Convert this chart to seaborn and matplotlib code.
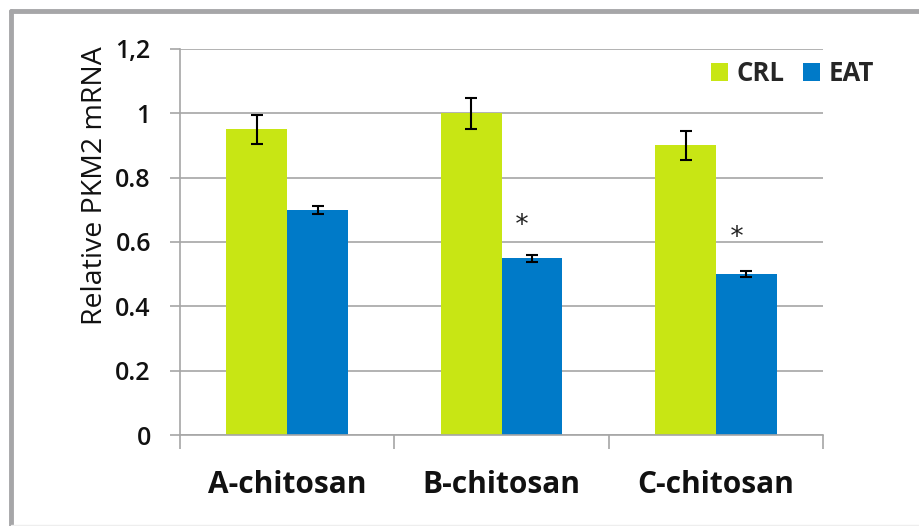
import numpy as np
import pandas as pd
import matplotlib
matplotlib.use('Agg')
import matplotlib.pyplot as plt
import seaborn as sns
from matplotlib.lines import Line2D

# values
groups = ['A-chitosan', 'B-chitosan', 'C-chitosan']
crl_values = [0.95, 1.00, 0.90]
eat_values = [0.70, 0.55, 0.50]
crl_err = [0.045, 0.048, 0.046]
eat_err = [0.012, 0.011, 0.010]
y_ticks = [0, 0.2, 0.4, 0.6, 0.8, 1.0, 1.2]
y_tick_labels = ['0', '0.2', '0.4', '0.6', '0.8', '1', '1,2']
star_groups = ['B-chitosan', 'C-chitosan']
star_heights = [0.65, 0.612]

df = pd.DataFrame({
    'group': groups * 2,
    'condition': ['CRL'] * 3 + ['EAT'] * 3,
    'value': crl_values + eat_values,
})

sns.set_theme(style='white')
plt.rcParams['font.family'] = ['Open Sans', 'DejaVu Sans']

fig = plt.figure(figsize=(9.2, 5.26), dpi=100)
ax = fig.add_axes([0.1957, 0.173, 0.699, 0.734])

palette = {'CRL': '#c8e614', 'EAT': '#007ac8'}
sns.barplot(data=df, x='group', y='value', hue='condition', palette=palette,
            width=0.567, saturation=1, errorbar=None, ax=ax, zorder=2,
            linewidth=0)

# error bars, positioned on the drawn bars
for container, errs in zip(ax.containers, [crl_err, eat_err]):
    xs = [p.get_x() + p.get_width() / 2 for p in container]
    hs = [p.get_height() for p in container]
    ax.errorbar(xs, hs, yerr=errs, fmt='none', ecolor='black',
                elinewidth=1.5, capsize=4, capthick=1.5, zorder=3)

# significance markers over EAT bars
eat_bars = list(ax.containers[1])
for g, h in zip(star_groups, star_heights):
    p = eat_bars[groups.index(g)]
    xc = p.get_x() + p.get_width() / 2 - 0.047
    ax.text(xc, h, '*', ha='center', va='center', fontsize=19,
            family='DejaVu Sans Mono', color='#222222')

ax.set_xlim(-0.5, 2.5)
ax.set_ylim(0, 1.2)
ax.set_yticks(y_ticks)
ax.set_yticklabels(y_tick_labels)
ax.yaxis.grid(True, color='#a6a6a6', linewidth=1.2, zorder=0)
ax.set_axisbelow(True)

for s in ['top', 'right']:
    ax.spines[s].set_visible(False)
for s in ['left', 'bottom']:
    ax.spines[s].set_color('#a6a6a6')
    ax.spines[s].set_linewidth(1.2)

ax.tick_params(axis='y', which='major', direction='out', length=7,
               color='#a6a6a6', width=1.2, labelsize=18, pad=14, left=True,
               labelcolor='#111111')
ax.tick_params(axis='x', which='major', length=0, labelsize=21.5, pad=25,
               labelcolor='#111111')
ax.set_xticks([-0.5, 0.5, 1.5, 2.5], minor=True)
ax.tick_params(axis='x', which='minor', direction='out', length=10,
               color='#a6a6a6', width=1.2, bottom=True)
for lab in ax.get_xticklabels():
    lab.set_fontweight('bold')
for lab in ax.get_yticklabels():
    lab.set_fontweight('semibold')

ax.set_xlabel('')
ax.set_ylabel('Relative PKM2 mRNA', fontsize=20.5, color='#111111',
              fontweight='medium')
ax.yaxis.set_label_coords(-0.11, 0.645)

ax.legend(loc='upper right', bbox_to_anchor=(1.115, 1.03), ncol=2, frameon=False,
          prop={'weight': 'bold', 'size': 18.5}, handlelength=0.65, handleheight=0.7,
          handletextpad=0.35, columnspacing=0.7)

# grey frame at top and left edge of the figure
fig.add_artist(Line2D([11 / 920, 1], [1 - 11 / 526, 1 - 11 / 526],
                      color='#a6a6a8', linewidth=3.5, transform=fig.transFigure))
fig.add_artist(Line2D([11 / 920, 11 / 920], [0, 1 - 11 / 526],
                      color='#a6a6a8', linewidth=3.5, transform=fig.transFigure))
fig.add_artist(Line2D([11 / 920, 1], [1 / 526, 1 / 526],
                      color='#eeeeee', linewidth=1, transform=fig.transFigure))

fig.savefig('out.png', dpi=100, facecolor='white')
